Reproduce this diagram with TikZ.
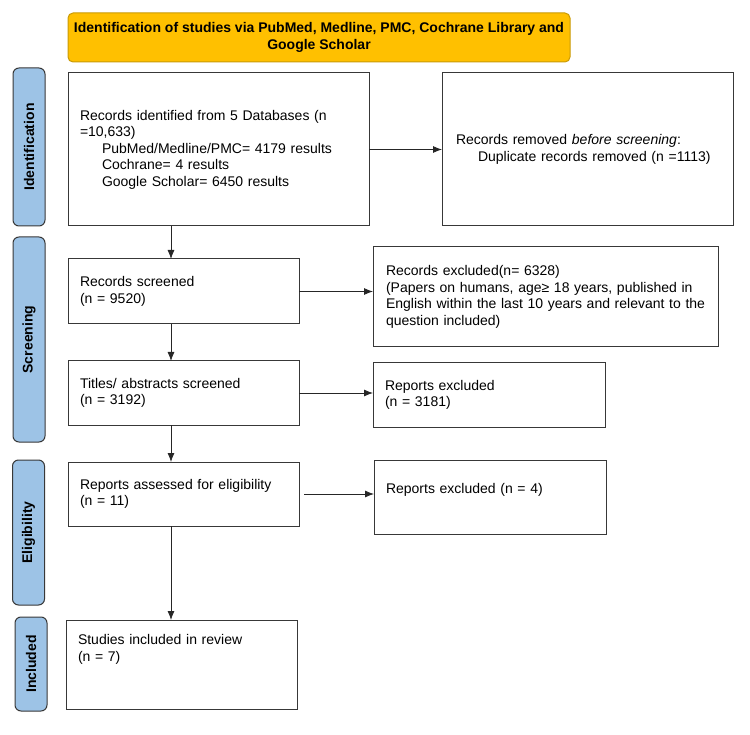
\documentclass[tikz,border=0pt]{standalone}
\usepackage{fontspec}
\setmainfont{Liberation Sans}
\usetikzlibrary{arrows.meta}

\definecolor{gold}{HTML}{FFC000}
\definecolor{golddark}{HTML}{C99A06}
\definecolor{barblue}{HTML}{9DC3E6}
\definecolor{edge}{HTML}{383838}

\begin{document}
\begin{tikzpicture}[x=1pt,y=-1pt]
\tikzset{ >={Latex[length=9pt,width=7pt]}, inner sep=0pt, outer sep=0pt,
  txt/.style={font=\fontsize{14}{16.5}\selectfont},
  box/.style={txt, draw=edge, line width=1pt, fill=white, anchor=north west, align=left, inner xsep=12pt},
  bar/.style={font=\fontsize{14}{16.5}\selectfont\bfseries, draw=edge, line width=1pt, fill=barblue, rounded corners=6pt, rotate=90, minimum height=32pt},
  banner/.style={font=\fontsize{14}{16.5}\selectfont\bfseries, draw=golddark, line width=1pt, fill=gold, rounded corners=5pt, align=center, minimum width=502pt, minimum height=49pt},
  link/.style={->, line width=0.8pt, draw=black!85},
}

\useasboundingbox (0,0) rectangle (750,735);
%\draw [lightgray, dashed](0,0) grid[step=50] (750,735);

\node [banner] (head) at (319,37.5) {Identification of studies via PubMed, Medline, PMC, Cochrane Library and\\Google Scholar};

\node [bar, minimum width=158pt] (idbar) at (29,147) {Identification};
\node [bar, minimum width=205pt] (scbar) at (29,339.5) {Screening};
\node [bar, minimum width=145pt] (elbar) at (28.5,532.5) {Eligibility};
\node [bar, minimum width=94pt] (inbar) at (31,664) {Included};

\node [box, text width=277pt, minimum height=153pt] (idrec) at (68,73) {Records identified from 5 Databases (n\\=10,633)\\\hspace*{22pt}PubMed/Medline/PMC= 4179 results\\\hspace*{22pt}Cochrane= 4 results\\\hspace*{22pt}Google Scholar= 6450 results};
\node [box, inner xsep=14pt, text width=263pt, minimum height=153pt] (removed) at (442,73) {Records removed \emph{before screening}:\\\hspace*{22pt}Duplicate records removed (n =1113)};

\node [box, text width=207pt, minimum height=65pt] (screened) at (68,259) {Records screened\\(n = 9520)};
\node [box, inner xsep=13pt, text width=319pt, minimum height=100pt] (excl1) at (373,247) {Records excluded(n= 6328)\\(Papers on humans, age≥ 18 years, published in\\\mbox{English within the last 10 years and relevant to the}\\question included)};

\node [box, text width=207pt, minimum height=64pt] (titles) at (68,361) {Titles/ abstracts screened\\(n = 3192)};
\node [box, text width=208pt, minimum height=64pt] (excl2) at (373,363) {Reports excluded\\(n = 3181)};

\node [box, text width=207pt, minimum height=64pt] (assessed) at (68,462) {Reports assessed for eligibility\\(n = 11)};
\node [box, text width=208pt, minimum height=74pt] (excl3) at (374,460) {Reports excluded (n = 4)\\\mbox{}};

\node [box, text width=207pt, minimum height=89pt] (studies) at (66,620) {Studies included in review\\(n = 7)\\\mbox{}\\\mbox{}};

\coordinate (spine) at (171,0);

\draw [link] (idrec.east) -- (removed.west);
\draw [link] (idrec.south -| spine) -- (screened.north -| spine);
\draw [link] (screened.east) -- (screened.east -| excl1.west);
\draw [link] (screened.south -| spine) -- (titles.north -| spine);
\draw [link] (titles.east) -- (titles.east -| excl2.west);
\draw [link] (titles.south -| spine) -- (assessed.north -| spine);
\draw [link, shorten <=5pt] (assessed.east) -- (assessed.east -| excl3.west);
\draw [link] (assessed.south -| spine) -- (studies.north -| spine);

\end{tikzpicture}
\end{document}
